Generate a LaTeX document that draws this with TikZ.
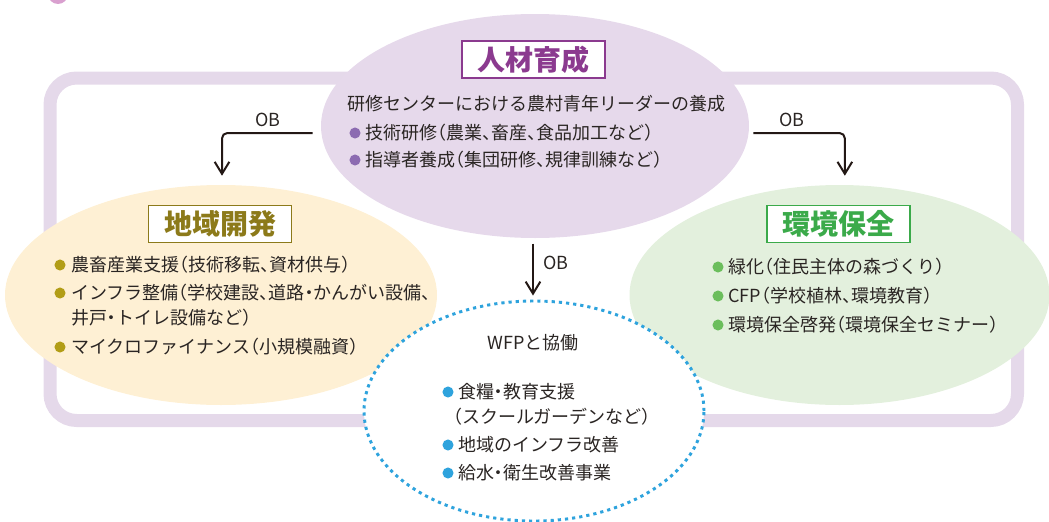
\documentclass[tikz,border=0pt]{standalone}
\usepackage{fontspec}
\usetikzlibrary{shapes.geometric,arrows.meta}
\newfontfamily\jp[RawFeature=+halt]{Noto Sans CJK JP}
\definecolor{frameC}{HTML}{E5D9EA}
\definecolor{topC}{HTML}{E6D9EB}
\definecolor{creamC}{HTML}{FEF0D4}
\definecolor{greenC}{HTML}{E3F0DD}
\definecolor{blueC}{HTML}{2EA3DD}
\definecolor{purpleT}{HTML}{8B3A8F}
\definecolor{oliveT}{HTML}{8C7A1A}
\definecolor{greenT}{HTML}{3BAA4A}
\definecolor{txt}{HTML}{2A2523}
\definecolor{bulP}{HTML}{8C6BB1}
\definecolor{bulO}{HTML}{B29D16}
\definecolor{bulG}{HTML}{6BBE5C}
\definecolor{arrC}{HTML}{231815}
\definecolor{pinkC}{HTML}{D9A0CF}
\tikzset{
  blob/.style={ellipse, inner sep=0pt, draw=none},
  titlebox/.style={draw=#1, fill=white, line width=1.2pt, text=#1, inner sep=0pt,
     minimum width=107pt, minimum height=28pt, font=\jp\fontsize{21}{24}\selectfont\bfseries},
  item/.style={anchor=west, inner sep=0pt, text=txt, font=\jp\fontsize{13.5}{16}\selectfont},
  bul/.style={circle, inner sep=0pt, minimum size=8.3pt, fill=#1, draw=none},
  arr/.style={draw=arrC, line width=1.5pt, rounded corners=4pt, -{Straight Barb[length=9pt,width=11pt,line width=1.5pt]}},
  oblabel/.style={inner sep=0pt, text=txt, font=\jp\fontsize{13.5}{16}\selectfont},
}
\begin{document}
\begin{tikzpicture}[x=0.75pt,y=-0.75pt]
\useasboundingbox (0,0) rectangle (1049,521);
\begin{scope}
\clip (0,0) rectangle (1049,521);
\fill[pinkC] (58,-6) circle (10);
% frame
\draw[frameC, line width=9.75pt, rounded corners=20pt] (50,78) rectangle (1017.5,420.5);
% ellipses
\node[blob, fill=creamC, minimum width=324pt, minimum height=165pt] (left) at (221,295) {};
\node[blob, fill=greenC, minimum width=315pt, minimum height=165pt] (right) at (839.5,295) {};
\node[blob, fill=topC, minimum width=321pt, minimum height=168pt] (top) at (535,126) {};
\node[ellipse, inner sep=0pt, fill=white, draw=blueC, line width=2.2pt, dash pattern=on 2.4pt off 3pt,
      minimum width=255pt, minimum height=165pt] (wfp) at (534,411) {};
\end{scope}
% titles
\node[titlebox=purpleT] (tTop) at (533.5,59.5) {人材育成};
\node[titlebox=oliveT] (tLeft) at (220,224) {地域開発};
\node[titlebox=greenT] (tRight) at (838.5,224) {環境保全};
% top texts
\node[item] (t0) at (347,104) {研修センターにおける農村青年リーダーの養成};
\node[bul=bulP] (b1) at (355,133) {};
\node[item] (t1) at (365,133) {技術研修（農業、畜産、食品加工など）};
\node[bul=bulP] (b2) at (355,160) {};
\node[item] (t2) at (365,160) {指導者養成（集団研修、規律訓練など）};
% left texts
\node[bul=bulO] (l1b) at (60,265) {};
\node[item] (l1) at (71,265) {農畜産業支援（技術移転、資材供与）};
\node[bul=bulO] (l2b) at (60,293) {};
\node[item] (l2) at (71,293) {インフラ整備（学校建設、道路・かんがい設備、};
\node[item] (l3) at (71,318) {井戸・トイレ設備など）};
\node[bul=bulO] (l4b) at (60,347) {};
\node[item] (l4) at (71,347) {マイクロファイナンス（小規模融資）};
% right texts
\node[bul=bulG] (r1b) at (718,267) {};
\node[item] (r1) at (728,267) {緑化（住民主体の森づくり）};
\node[bul=bulG] (r2b) at (718,296) {};
\node[item] (r2) at (728,296) {CFP（学校植林、環境教育）};
\node[bul=bulG] (r3b) at (718,325) {};
\node[item] (r3) at (728,325) {環境保全啓発（環境保全セミナー）};
% wfp texts
\node[oblabel] (w0) at (533,343) {WFPと協働};
\node[bul=blueC] (w1b) at (448,392) {};
\node[item] (w1) at (458,392) {食糧・教育支援};
\node[item] (w2) at (453,417) {（スクールガーデンなど）};
\node[bul=blueC] (w3b) at (448,445) {};
\node[item] (w3) at (458,445) {地域のインフラ改善};
\node[bul=blueC] (w4b) at (448,473) {};
\node[item] (w4) at (458,473) {給水・衛生改善事業};
% arrows
\draw[arr] ([xshift=-6pt,yshift=-5.25pt]top.west) -| ([xshift=0.75pt,yshift=6.75pt]left.north);
\draw[arr] ([xshift=3pt,yshift=-5.25pt]top.east) -| ([xshift=4pt,yshift=6.75pt]right.north);
\draw[arr] ([xshift=-1.5pt,yshift=-4pt]top.south) -- ([xshift=-0.75pt,yshift=3pt]wfp.north);
\node[oblabel] (ob1) at (268,120) {OB};
\node[oblabel] (ob2) at (792,120) {OB};
\node[oblabel, anchor=west] (ob3) at (543,263) {OB};
\end{tikzpicture}
\end{document}
